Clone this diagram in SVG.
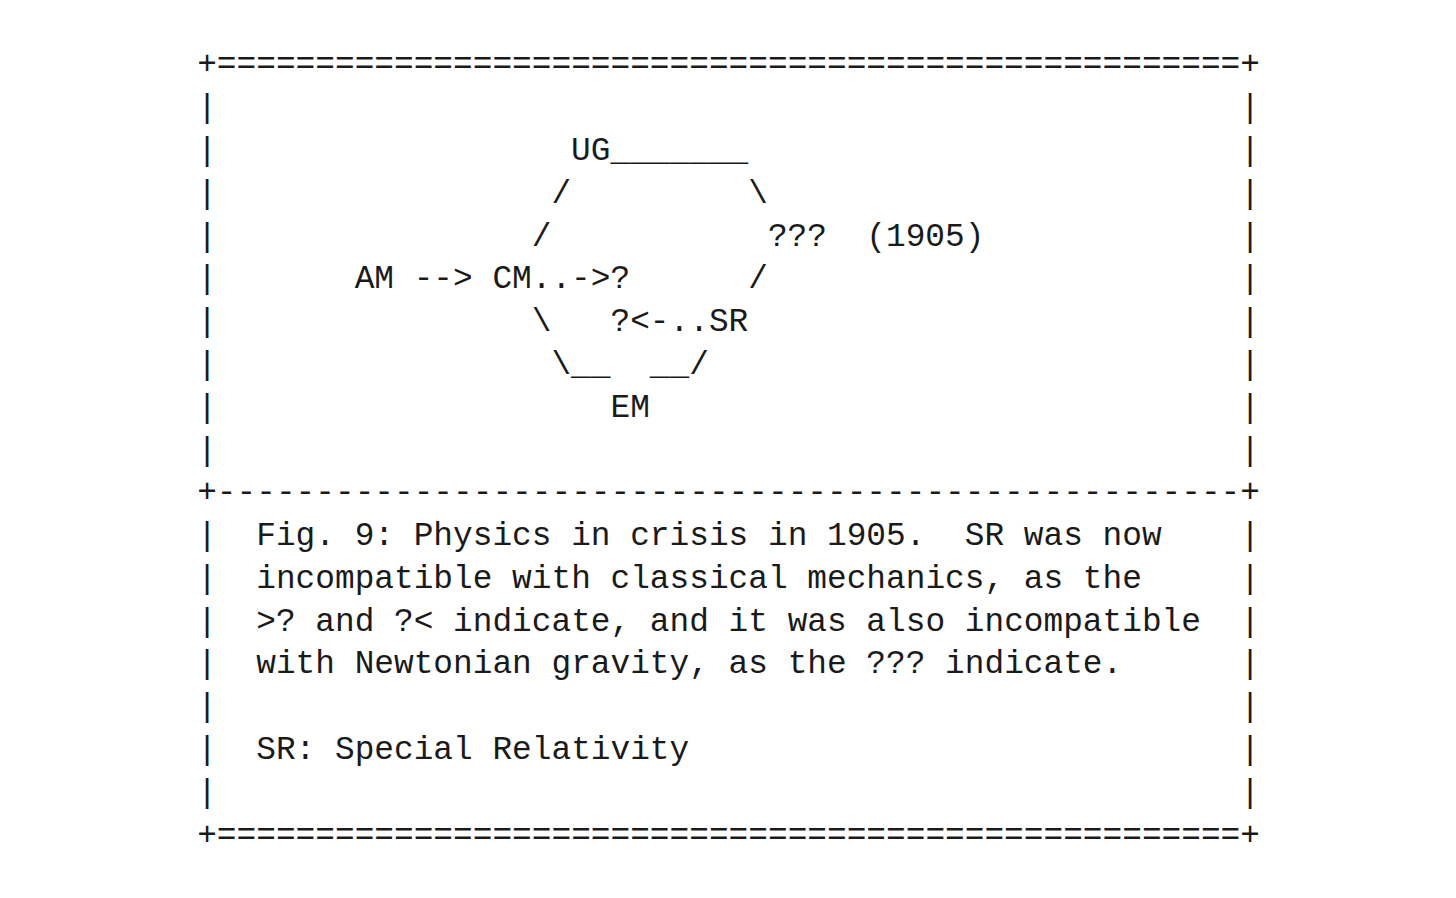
<svg xmlns="http://www.w3.org/2000/svg" width="1456" height="898" viewBox="0 0 1456 898">
<style>
text{font-family:"Liberation Mono","Courier New",monospace;font-size:32.8px;fill:#1a1a1a;white-space:pre}
</style>
<rect width="1456" height="898" fill="#ffffff"/>
<g id="frame" xml:space="preserve">
<text x="197.2" y="74.4">+====================================================+</text>
<text x="197.2" y="502.2">+----------------------------------------------------+</text>
<text x="197.2" y="844.5">+====================================================+</text>
<text x="197.2" y="117.2">|</text><text x="1240.24" y="117.2">|</text>
<text x="197.2" y="160">|</text><text x="1240.24" y="160">|</text>
<text x="197.2" y="202.8">|</text><text x="1240.24" y="202.8">|</text>
<text x="197.2" y="245.6">|</text><text x="1240.24" y="245.6">|</text>
<text x="197.2" y="288.3">|</text><text x="1240.24" y="288.3">|</text>
<text x="197.2" y="331.1">|</text><text x="1240.24" y="331.1">|</text>
<text x="197.2" y="373.9">|</text><text x="1240.24" y="373.9">|</text>
<text x="197.2" y="416.7">|</text><text x="1240.24" y="416.7">|</text>
<text x="197.2" y="459.5">|</text><text x="1240.24" y="459.5">|</text>
<text x="197.2" y="545">|</text><text x="1240.24" y="545">|</text>
<text x="197.2" y="587.8">|</text><text x="1240.24" y="587.8">|</text>
<text x="197.2" y="630.6">|</text><text x="1240.24" y="630.6">|</text>
<text x="197.2" y="673.4">|</text><text x="1240.24" y="673.4">|</text>
<text x="197.2" y="716.2">|</text><text x="1240.24" y="716.2">|</text>
<text x="197.2" y="758.9">|</text><text x="1240.24" y="758.9">|</text>
<text x="197.2" y="801.7">|</text><text x="1240.24" y="801.7">|</text>
</g>
<g id="node-UG"><text x="571.12" y="160">UG</text></g>
<g id="node-AM"><text x="354.64" y="288.3">AM</text></g>
<g id="node-CM"><text x="492.4" y="288.3">CM</text></g>
<g id="node-q1"><text x="610.48" y="288.3">?</text></g>
<g id="node-q2"><text x="610.48" y="331.1">?</text></g>
<g id="node-SR"><text x="708.88" y="331.1">SR</text></g>
<g id="node-EM"><text x="610.48" y="416.7">EM</text></g>
<g id="node-qqq"><text x="767.92" y="245.6">???</text></g>
<g id="node-1905"><text x="866.32" y="245.6">(1905)</text></g>
<g id="connectors" xml:space="preserve">
<text x="610.48" y="160">_______</text>
<text x="551.44" y="202.8">/</text>
<text x="748.24" y="202.8">\</text>
<text x="531.76" y="245.6">/</text>
<text x="413.68" y="288.3">--&gt;</text>
<text x="531.76" y="288.3">..-&gt;</text>
<text x="748.24" y="288.3">/</text>
<text x="531.76" y="331.1">\</text>
<text x="630.16" y="331.1">&lt;-..</text>
<text x="551.44" y="373.9">\__</text>
<text x="649.84" y="373.9">__/</text>
</g>
<g id="caption" xml:space="preserve">
<text x="256.24" y="545">Fig. 9: Physics in crisis in 1905.  SR was now</text>
<text x="256.24" y="587.8">incompatible with classical mechanics, as the</text>
<text x="256.24" y="630.6">&gt;? and ?&lt; indicate, and it was also incompatible</text>
<text x="256.24" y="673.4">with Newtonian gravity, as the ??? indicate.</text>
<text x="256.24" y="758.9">SR: Special Relativity</text>
</g>
</svg>
